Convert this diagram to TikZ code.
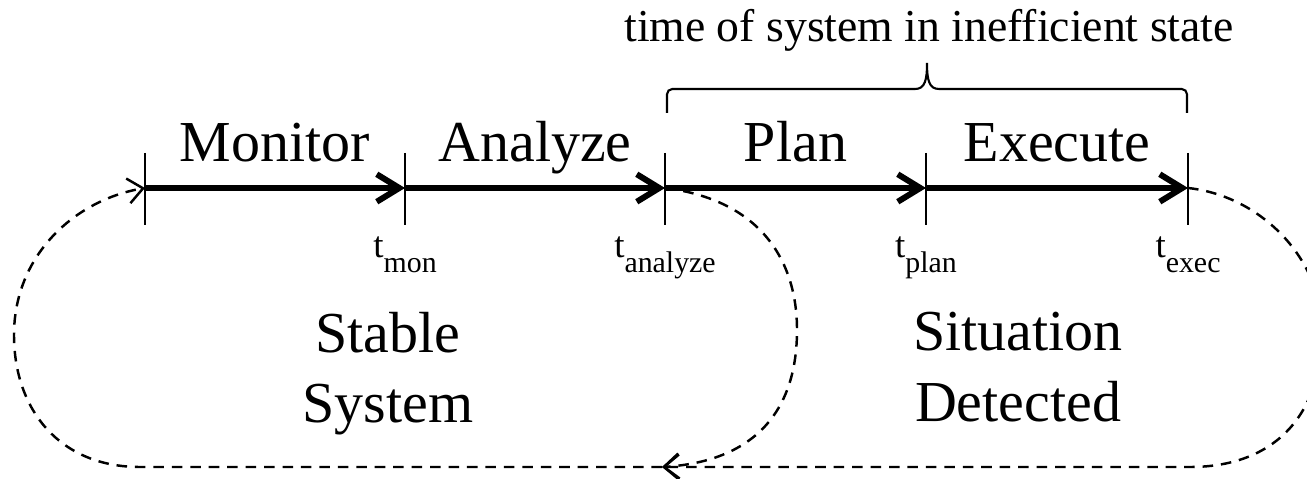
\documentclass[tikz,border=0pt]{standalone}
\usepackage{fontspec}
\setmainfont{Liberation Serif}
\usepackage{tikz}
\usetikzlibrary{positioning,arrows.meta,calc}
\newcommand{\tsub}[1]{t{\fontsize{17}{17}\selectfont\raisebox{-8.5pt}{#1}}}
\tikzset{
phase/.style={
anchor=base,
inner sep=0pt,
font=\fontsize{33}{40}\selectfont
},
tlabel/.style={
anchor=base,
inner sep=0pt,
font=\fontsize{21}{24}\selectfont
},
state/.style={
anchor=north,
inner sep=0pt,
align=center,
font=\fontsize{33}{40}\selectfont
},
tick/.style={
line width=1.2pt
},
flow/.style={
-{Straight Barb[length=4.5mm,width=5.5mm]},
line width=3.4pt
},
loop/.style={
-{Straight Barb[length=3mm,width=5mm]},
line width=1.4pt,
dash pattern=on 6pt off 4.5pt
}
}

\begin{document}
\begin{tikzpicture}[x=0.02cm,y=-0.02cm]
\useasboundingbox (0,0) rectangle (1307,479);
\clip (0,0) rectangle (1307,479);

\foreach \n/\x in {tstart/145,tmon/405,tana/665,tplan/926,texec/1188}
\coordinate (\n) at (\x,188);
\coordinate (back) at (662,467);

\foreach \n in {tstart,tmon,tana,tplan,texec}
\draw[tick] ($(\n)+(0,-35)$) -- ($(\n)+(0,37)$);

\foreach \x/\y in {tstart/tmon,tmon/tana,tana/tplan,tplan/texec}
\draw[flow](\x)--(\y);

% phases
\node[phase] (monitor) at ($(tstart)!0.5!(tmon)+(0,-26)$) {Monitor};
\node[phase] (analyze) at ($(tmon)!0.5!(tana)+(0,-26)$) {Analyze};
\node[phase] (plan) at ($(tana)!0.5!(tplan)+(0,-26)$) {Plan};
\node[phase] (execute) at ($(tplan)!0.5!(texec)+(0,-26)$) {Execute};

% time stamps
\node[tlabel] (lmon) at ($(tmon)+(0,70)$) {\tsub{mon}};
\node[tlabel] (lana) at ($(tana)+(0,70)$) {\tsub{analyze}};
\node[tlabel] (lplan) at ($(tplan)+(0,70)$) {\tsub{plan}};
\node[tlabel] (lexec) at ($(texec)+(0,70)$) {\tsub{exec}};

% states
\node[state] (stable) at (388,312) {Stable\\System};
\node[state] (detected) at (1018,312) {Situation\\Detected};

% brace
\draw[line width=1.2pt,rounded corners=3pt] (667,113) -- (667,89) -- (915,89);
\draw[line width=1.2pt] (915,89) .. controls (925,89) and (927,80) .. (927,63)
  .. controls (927,80) and (929,89) .. (939,89);
\draw[line width=1.2pt,rounded corners=3pt] (939,89) -- (1187,89) -- (1187,113);
\node[anchor=base,inner sep=0pt,font=\fontsize{26}{30}\selectfont] (ineff) at (929,42) {time of system in inefficient state};

% loops
\draw[loop] (tana) .. controls (760,200) and (797,260) .. (797,330)
  .. controls (797,420) and (745,462) .. (back);
\draw[loop] (texec) .. controls (1262,196) and (1322,260) .. (1322,330)
  .. controls (1322,420) and (1270,467) .. (1190,467) -- (back);
\draw[loop] (back) -- (140,467) .. controls (60,467) and (14,410) .. (14,335)
  .. controls (14,255) and (75,200) .. (tstart);
\end{tikzpicture}
\end{document}
